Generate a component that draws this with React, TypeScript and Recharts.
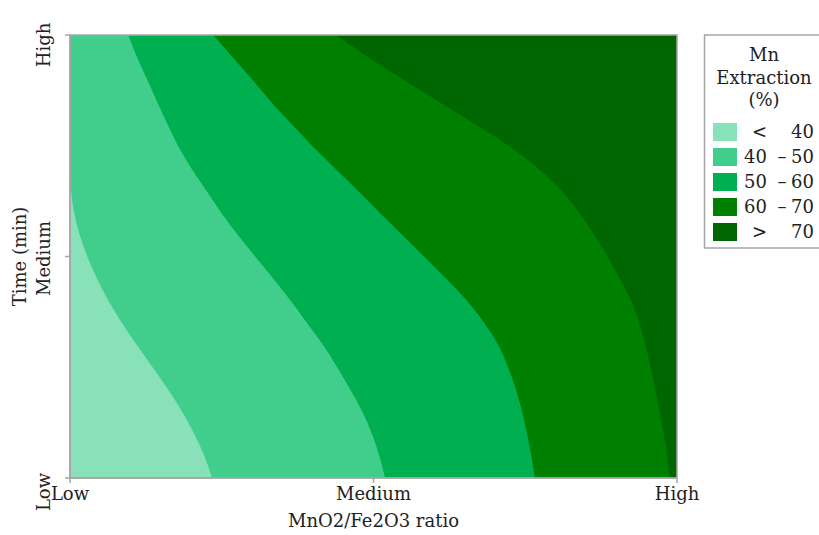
import React from 'react';
import { ComposedChart, Area, XAxis, YAxis, ReferenceArea } from 'recharts';

// Time coordinate (0 = Low, 0.5 = Medium, 1 = High)
const timeGrid = [0, 0.05, 0.1, 0.15, 0.2, 0.25, 0.3, 0.35, 0.4, 0.45, 0.5, 0.55, 0.6, 0.65, 0.7, 0.75, 0.8, 0.85, 0.9, 0.95, 1];

// Contour boundaries: MnO2/Fe2O3 ratio position (0 = Low, 1 = High) for each time value
const edge40 = [0.234, 0.222, 0.205, 0.185, 0.162, 0.136, 0.11, 0.085, 0.063, 0.044, 0.028, 0.015, 0.006, 0.001, 0, 0, 0, 0, 0, 0, 0];
const edge50 = [0.519, 0.51, 0.498, 0.482, 0.462, 0.44, 0.418, 0.39, 0.364, 0.335, 0.305, 0.275, 0.248, 0.224, 0.199, 0.177, 0.16, 0.143, 0.127, 0.11, 0.096];
const edge60 = [0.766, 0.76, 0.753, 0.745, 0.735, 0.722, 0.707, 0.683, 0.655, 0.62, 0.583, 0.546, 0.509, 0.473, 0.436, 0.398, 0.364, 0.33, 0.3, 0.268, 0.236];
const edge70 = [0.988, 0.984, 0.978, 0.971, 0.964, 0.957, 0.948, 0.938, 0.925, 0.906, 0.886, 0.863, 0.839, 0.81, 0.772, 0.724, 0.666, 0.607, 0.548, 0.49, 0.438];
const edgeMax = [1, 1, 1, 1, 1, 1, 1, 1, 1, 1, 1, 1, 1, 1, 1, 1, 1, 1, 1, 1, 1];

const legendLabels = ['< 40', '40 \u2013 50', '50 \u2013 60', '60 \u2013 70', '> 70'];
const bandColors = ['#88E1B9', '#41CE8C', '#00B050', '#008000', '#006600'];
const legendTitle = ['Mn', 'Extraction', '(%)'];

const axisTicks = [0, 0.5, 1];
const axisTickLabels = ['Low', 'Medium', 'High'];

const xTitle = 'MnO2/Fe2O3 ratio';
const yTitle = 'Time (min)';

const FONT = "'DejaVu Serif', serif";
const TEXT = '#222222';
const AXIS = '#a6a6a6';

const rows = timeGrid.map((t, i) => ({
  t,
  e40: edge40[i],
  e50: edge50[i],
  e60: edge60[i],
  e70: edge70[i],
  emax: edgeMax[i],
}));

const labelFor = (v: number) => {
  const idx = axisTicks.indexOf(v);
  return idx >= 0 ? axisTickLabels[idx] : '';
};

const yOffsets: Record<string, number> = { Low: 14, Medium: 2, High: 10 };

const YTick = (props: any) => {
  const { x, y, payload } = props;
  const label = labelFor(payload.value);
  const cx = x - 19;
  const cy = y + (yOffsets[label] || 0);
  return (
    <text
      x={cx}
      y={cy}
      dy="0.35em"
      textAnchor="middle"
      transform={`rotate(-90 ${cx} ${cy})`}
      fontFamily={FONT}
      fontSize={18}
      fill={TEXT}
    >
      {label}
    </text>
  );
};

const YLabel = (props: any) => {
  const vb = props.viewBox || { x: 0, y: 35, width: 70, height: 443 };
  const cx = vb.x + 20;
  const cy = vb.y + vb.height / 2;
  return (
    <text
      x={cx}
      y={cy}
      dy="0.35em"
      textAnchor="middle"
      transform={`rotate(-90 ${cx} ${cy})`}
      fontFamily={FONT}
      fontSize={18}
      fill={TEXT}
    >
      {yTitle}
    </text>
  );
};

const LegendBox = () => {
  const left = 704.5;
  const top = 35;
  return (
    <svg
      width={819}
      height={535}
      style={{ position: 'absolute', left: 0, top: 0, pointerEvents: 'none' }}
    >
      <rect x={left} y={top} width={140} height={213} fill="#ffffff" stroke={AXIS} strokeWidth={1.5} />
      {legendTitle.map((line, i) => (
        <text
          key={line}
          x={764}
          y={61 + i * 22.5}
          textAnchor="middle"
          fontFamily={FONT}
          fontSize={18}
          fill={TEXT}
        >
          {line}
        </text>
      ))}
      {legendLabels.map((lab, i) => {
        const parts = lab.split(' ');
        const first = parts[0];
        const last = parts[parts.length - 1];
        const mid = parts.length > 2 ? parts[1] : '';
        const sy = 123 + i * 25;
        const ty = sy + 9;
        return (
          <g key={lab}>
            <rect x={713} y={sy} width={24} height={18} fill={bandColors[i]} />
            <text x={767} y={ty} dy="0.35em" textAnchor="end" fontFamily={FONT} fontSize={18} fill={TEXT}>
              {first}
            </text>
            {mid && (
              <text x={782} y={ty} dy="0.35em" textAnchor="middle" fontFamily={FONT} fontSize={18} fill={TEXT}>
                {mid}
              </text>
            )}
            <text x={791} y={ty} dy="0.35em" textAnchor="start" fontFamily={FONT} fontSize={18} fill={TEXT}>
              {last}
            </text>
          </g>
        );
      })}
    </svg>
  );
};

export default function App() {
  return (
    <div
      style={{
        position: 'absolute',
        left: 0,
        top: 0,
        width: 819,
        height: 535,
        overflow: 'hidden',
        background: '#ffffff',
      }}
    >
      <ComposedChart
        width={819}
        height={535}
        layout="vertical"
        data={rows}
        margin={{ top: 35, right: 142, bottom: 0, left: 0 }}
      >
        <XAxis
          type="number"
          domain={[0, 1]}
          ticks={axisTicks}
          tickFormatter={labelFor}
          height={57}
          axisLine={{ stroke: AXIS, strokeWidth: 1.5 }}
          tickLine={{ stroke: AXIS, strokeWidth: 1.5 }}
          tickSize={5}
          tickMargin={4}
          tick={{ fontFamily: FONT, fontSize: 18, fill: TEXT }}
          interval={0}
          allowDataOverflow
          label={{
            value: xTitle,
            position: 'insideBottom',
            offset: 8,
            fontFamily: FONT,
            fontSize: 18,
            fill: TEXT,
          }}
        />
        <YAxis
          type="number"
          dataKey="t"
          domain={[0, 1]}
          reversed
          ticks={axisTicks}
          width={70}
          axisLine={{ stroke: AXIS, strokeWidth: 1.5 }}
          tickLine={{ stroke: AXIS, strokeWidth: 1.5 }}
          tickSize={5}
          tickMargin={2}
          tick={<YTick />}
          interval={0}
          allowDataOverflow
          label={<YLabel />}
        />
        <Area type="basis" dataKey="emax" fill={bandColors[4]} fillOpacity={1} stroke="none" isAnimationActive={false} dot={false} activeDot={false} />
        <Area type="basis" dataKey="e70" fill={bandColors[3]} fillOpacity={1} stroke="none" isAnimationActive={false} dot={false} activeDot={false} />
        <Area type="basis" dataKey="e60" fill={bandColors[2]} fillOpacity={1} stroke="none" isAnimationActive={false} dot={false} activeDot={false} />
        <Area type="basis" dataKey="e50" fill={bandColors[1]} fillOpacity={1} stroke="none" isAnimationActive={false} dot={false} activeDot={false} />
        <Area type="basis" dataKey="e40" fill={bandColors[0]} fillOpacity={1} stroke="none" isAnimationActive={false} dot={false} activeDot={false} />
        <ReferenceArea x1={0} x2={1} y1={0} y2={1} fill="none" stroke={AXIS} strokeWidth={1.5} ifOverflow="visible" />
      </ComposedChart>
      <LegendBox />
    </div>
  );
}
